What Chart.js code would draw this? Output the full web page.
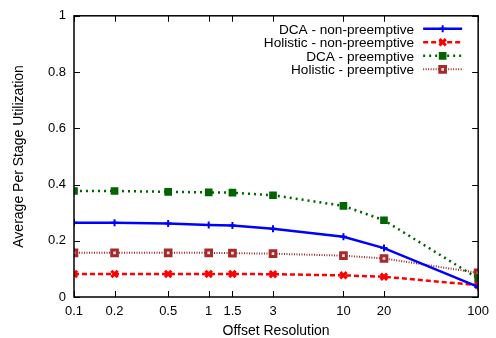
<!DOCTYPE html>
<html>
<head>
<meta charset="utf-8">
<script src="https://cdn.jsdelivr.net/npm/chart.js@4/dist/chart.umd.min.js"></script>
<style>
  html, body { margin: 0; padding: 0; background: #fff; }
  #wrap { width: 496px; height: 338px; }
</style>
</head>
<body>
<div id="wrap"><canvas id="utilChart" width="496" height="338"></canvas></div>
<script>
// offset resolutions (log x axis)
var offsets = [0.1, 0.2, 0.5, 1, 1.5, 3, 10, 20, 100];
var xTickValues = [0.1, 0.2, 0.5, 1, 1.5, 3, 10, 20, 100];
var yTickValues = [0, 0.2, 0.4, 0.6, 0.8, 1];

var seriesLabels = [
    'DCA - non-preemptive',
    'Holistic - non-preemptive',
    'DCA - preemptive',
    'Holistic - preemptive'
];
var dcaNonPreemptive      = [0.264, 0.264, 0.261, 0.256, 0.254, 0.243, 0.214, 0.174, 0.036];
var holisticNonPreemptive = [0.082, 0.082, 0.082, 0.082, 0.082, 0.081, 0.077, 0.072, 0.042];
var dcaPreemptive         = [0.377, 0.377, 0.374, 0.372, 0.371, 0.362, 0.324, 0.273, 0.066];
var holisticPreemptive    = [0.157, 0.157, 0.157, 0.157, 0.156, 0.154, 0.147, 0.137, 0.086];

var FONT = 'Liberation Sans, Arial, Helvetica, sans-serif';

toPoints = function (ys) {
    var pts = [];
    for (var i = 0; i < offsets.length; i++) {
        pts.push({x: offsets[i], y: ys[i]});
    }
    return pts;
}

drawMarker = function (ctx, ds, x, y) {
    var r = ds.pointRadius;
    ctx.save();
    ctx.setLineDash([]);
    ctx.strokeStyle = ds.pointBorderColor;
    ctx.fillStyle = ds.pointBackgroundColor;
    ctx.lineWidth = ds.pointBorderWidth;
    ctx.beginPath();
    if (ds.pointStyle === 'cross') {
        ctx.moveTo(x - r, y); ctx.lineTo(x + r, y);
        ctx.moveTo(x, y - r); ctx.lineTo(x, y + r);
        ctx.stroke();
    } else if (ds.pointStyle === 'crossRot') {
        var d = r * Math.SQRT1_2;
        ctx.moveTo(x - d, y - d); ctx.lineTo(x + d, y + d);
        ctx.moveTo(x - d, y + d); ctx.lineTo(x + d, y - d);
        ctx.stroke();
    } else {
        var s = r * Math.SQRT1_2;
        ctx.rect(x - s, y - s, 2 * s, 2 * s);
        ctx.fill();
        ctx.stroke();
    }
    ctx.restore();
}

// gnuplot style frame: inward ticks on all four sides + key in the top right
var framePlugin = {
    id: 'frame',
    afterDatasetsDraw: function (chart) {
        var ctx = chart.ctx;
        var a = chart.chartArea;
        var xs = chart.scales.x, ys = chart.scales.y;
        var len = 6;
        ctx.save();
        ctx.strokeStyle = '#000';
        ctx.lineWidth = 1;
        ctx.beginPath();
        for (var i = 0; i < xTickValues.length; i++) {
            var px = Math.round(xs.getPixelForValue(xTickValues[i])) + 0.5;
            ctx.moveTo(px, a.bottom); ctx.lineTo(px, a.bottom - len);
            ctx.moveTo(px, a.top); ctx.lineTo(px, a.top + len);
        }
        for (var j = 0; j < yTickValues.length; j++) {
            var py = Math.round(ys.getPixelForValue(yTickValues[j])) + 0.5;
            ctx.moveTo(a.left, py); ctx.lineTo(a.left + len, py);
            ctx.moveTo(a.right, py); ctx.lineTo(a.right - len, py);
        }
        ctx.stroke();
        ctx.lineWidth = 1.5;
        ctx.strokeRect(a.left, a.top, a.right - a.left, a.bottom - a.top);
        ctx.restore();

        // key
        var textRight = a.right - 64;
        var lineLeft = a.right - 55, lineRight = a.right - 16;
        ctx.save();
        ctx.font = '13.6px ' + FONT;
        ctx.textAlign = 'right';
        ctx.textBaseline = 'middle';
        for (var k = 0; k < chart.data.datasets.length; k++) {
            var ds = chart.data.datasets[k];
            var ky = a.top + 13 + k * 13.5;
            ctx.fillStyle = '#000';
            ctx.fillText(ds.label, textRight, ky + 1);
            ctx.strokeStyle = ds.borderColor;
            ctx.lineWidth = ds.borderWidth;
            ctx.setLineDash(ds.borderDash);
            ctx.beginPath();
            ctx.moveTo(lineLeft, ky); ctx.lineTo(lineRight, ky);
            ctx.stroke();
            drawMarker(ctx, ds, (lineLeft + lineRight) / 2, ky);
        }
        ctx.restore();
    }
};

makeDataset = function (label, ys, color, dash, style, radius, bw, bg) {
    return {
        label: label,
        data: toPoints(ys),
        borderColor: color,
        borderWidth: 2.5,
        borderDash: dash,
        pointStyle: style,
        pointRadius: radius,
        pointBorderWidth: bw,
        pointBorderColor: color,
        pointBackgroundColor: bg,
        fill: false,
        tension: 0
    };
}

var datasets = [
    makeDataset(seriesLabels[0], dcaNonPreemptive, '#0000ff', [], 'cross', 3.5, 2, '#0000ff'),
    makeDataset(seriesLabels[1], holisticNonPreemptive, '#ff0000', [5, 3], 'crossRot', 4.5, 3, '#ff0000'),
    makeDataset(seriesLabels[2], dcaPreemptive, '#006400', [2, 4], 'rect', 4, 2, '#006400'),
    makeDataset(seriesLabels[3], holisticPreemptive, '#a52a2a', [1, 1.5], 'rect', 4, 3, '#f4e4e4')
];
datasets[3].borderWidth = 2;

var ctx = document.getElementById('utilChart');
var utilChart = new Chart(ctx, {
    type: 'line',
    data: { datasets: datasets },
    options: {
        responsive: false,
        animation: false,
        layout: { padding: { left: 0, right: 17, top: 13, bottom: 0 } },
        plugins: {
            legend: { display: false },
            tooltip: { enabled: false }
        },
        scales: {
            x: {
                type: 'logarithmic',
                min: 0.1,
                max: 100,
                afterBuildTicks: function (scale) {
                    scale.ticks = xTickValues.map(function (v) { return {value: v}; });
                },
                afterFit: function (scale) { scale.height = 41; },
                grid: { display: false, drawTicks: false },
                border: { display: false },
                ticks: {
                    color: '#000',
                    padding: 7,
                    maxRotation: 0,
                    autoSkip: false,
                    font: { family: FONT, size: 13 },
                    callback: function (v) { return String(v); }
                },
                title: {
                    display: true,
                    text: 'Offset Resolution',
                    color: '#000',
                    padding: { top: 0, bottom: -2 },
                    font: { family: FONT, size: 14 }
                }
            },
            y: {
                min: 0,
                max: 1,
                afterBuildTicks: function (scale) {
                    scale.ticks = yTickValues.map(function (v) { return {value: v}; });
                },
                afterFit: function (scale) { scale.width = 74; },
                grid: { display: false, drawTicks: false },
                border: { display: false },
                ticks: {
                    color: '#000',
                    padding: 8,
                    font: { family: FONT, size: 13 },
                    callback: function (v) { return String(Math.round(v * 10) / 10); }
                },
                title: {
                    display: true,
                    text: 'Average Per Stage Utilization',
                    color: '#000',
                    padding: { top: 11, bottom: 4 },
                    font: { family: FONT, size: 14 }
                }
            }
        }
    },
    plugins: [framePlugin]
});
</script>
</body>
</html>
